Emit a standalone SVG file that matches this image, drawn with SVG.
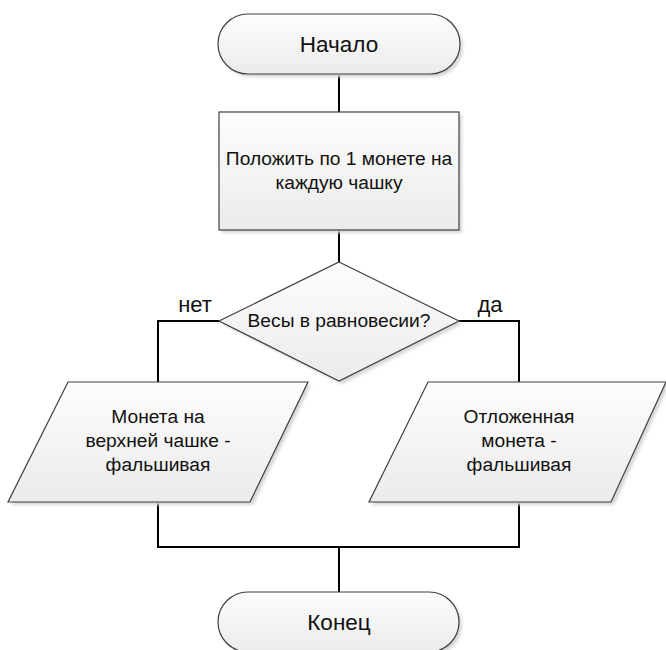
<svg xmlns="http://www.w3.org/2000/svg" width="666" height="650" viewBox="0 0 666 650">
<defs>
<linearGradient id="g" x1="0" y1="0" x2="0" y2="1">
<stop offset="0" stop-color="#fdfdfd"/>
<stop offset="1" stop-color="#ebebeb"/>
</linearGradient>
<filter id="sh" x="-10%" y="-10%" width="130%" height="130%">
<feGaussianBlur stdDeviation="1.5"/>
</filter>
</defs>
<style>
.s{fill:url(#g);stroke:#404040;stroke-width:1.2}
.sd{fill:#d6d6d6;filter:url(#sh)}
.c{fill:none;stroke:#000;stroke-width:2}
text{font-family:"Liberation Sans",Arial,sans-serif;fill:#111;text-anchor:middle}
.t{font-size:22.5px}
.b{font-size:19.2px}
.l{font-size:22px}
</style>
<g id="connectors">
<path class="c" d="M339 74 V112"/>
<path class="c" d="M339 230 V262"/>
<path class="c" d="M219 321 H158 V382"/>
<path class="c" d="M459 321 H519 V382"/>
<path class="c" d="M158 502 V547 H519 V502"/>
<path class="c" d="M339 547 V592"/>
</g>
<g id="start">
<rect class="sd" x="221" y="17" width="242" height="60" rx="30"/>
<rect class="s" x="218" y="14" width="242" height="60" rx="30"/>
<text class="t" x="339" y="52">Начало</text>
</g>
<g id="step1">
<rect class="sd" x="222" y="115" width="240" height="118"/>
<rect class="s" x="219" y="112" width="240" height="118"/>
<text class="b" x="339" y="165">Положить по 1 монете на</text>
<text class="b" x="339" y="189">каждую чашку</text>
</g>
<g id="decision">
<polygon class="sd" points="342,265 462,324 342,384 222,324"/>
<polygon class="s" points="339,262 459,321 339,381 219,321"/>
<text class="b" x="339" y="327">Весы в равновесии?</text>
</g>
<g id="label-no"><text class="l" x="195" y="312">нет</text></g>
<g id="label-yes"><text class="l" x="490" y="312">да</text></g>
<g id="out-left">
<polygon class="sd" points="71,385 311,385 253,505 11,505"/>
<polygon class="s" points="68,382 308,382 250,502 8,502"/>
<text class="b" x="158" y="423">Монета на</text>
<text class="b" x="158" y="447">верхней чашке -</text>
<text class="b" x="158" y="471">фальшивая</text>
</g>
<g id="out-right">
<polygon class="sd" points="431,385 669,385 614,505 372,505"/>
<polygon class="s" points="428,382 666,382 611,502 369,502"/>
<text class="b" x="519" y="423">Отложенная</text>
<text class="b" x="519" y="447">монета -</text>
<text class="b" x="519" y="471">фальшивая</text>
</g>
<g id="end">
<rect class="sd" x="221" y="595" width="241" height="60" rx="30"/>
<rect class="s" x="218" y="592" width="241" height="60" rx="30"/>
<text class="t" x="339" y="630">Конец</text>
</g>
</svg>
